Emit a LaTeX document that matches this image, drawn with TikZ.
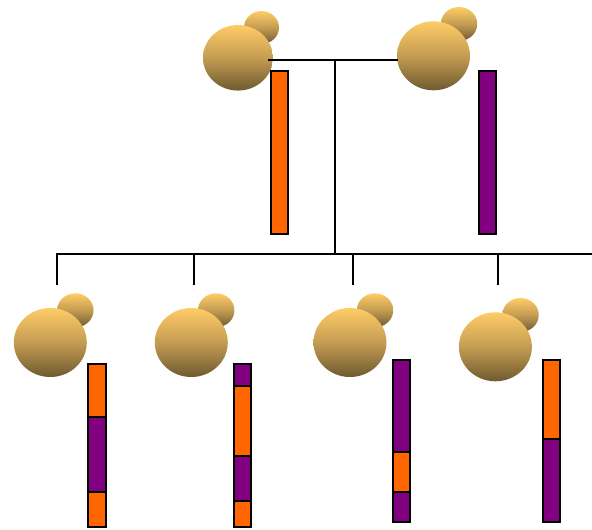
\documentclass[tikz,border=0pt]{standalone}
\usepackage{xcolor}
\usetikzlibrary{shapes.geometric}
\definecolor{skintop}{HTML}{FFCC66}
\definecolor{skinmid}{HTML}{C49C52}
\definecolor{skinlow}{HTML}{6E5A30}
\definecolor{orangeseg}{HTML}{FF6600}
\definecolor{purpleseg}{HTML}{800080}

\begin{document}
\begin{tikzpicture}[
    x=0.02cm, y=-0.02cm,
    skin/.style={top color=skintop, bottom color=skinlow, middle color=skinmid},
    body/.style={ellipse, inner sep=0pt, minimum width=1.46cm, minimum height=1.38cm, skin},
    head/.style={ellipse, inner sep=0pt, minimum width=0.73cm, minimum height=0.68cm, skin},
    ln/.style={draw=black, line width=0.04cm},
    orangebar/.style={ln, fill=orangeseg},
    purplebar/.style={ln, fill=purpleseg}
  ]
  \useasboundingbox (0,0) rectangle (592,529);

  % parents
  \node[head, minimum width=0.70cm, minimum height=0.66cm] (headA) at (261.5,27.5) {};
  \node[body, minimum width=1.40cm, minimum height=1.31cm] (bodyA) at (238,57.8) {};
  \node[head] (headB) at (459,24) {};
  \node[body] (bodyB) at (433.5,55.8) {};

  % children
  \node[head] (headC) at (75.3,310.3) {};
  \node[body] (bodyC) at (50.3,342.5) {};
  \node[head] (headD) at (216.2,310.3) {};
  \node[body] (bodyD) at (191.3,342.5) {};
  \node[head] (headE) at (375,310.3) {};
  \node[body] (bodyE) at (350,342.5) {};
  \node[head] (headF) at (520.5,315) {};
  \node[body] (bodyF) at (495.4,346.8) {};

  % family lines
  \coordinate (startA) at (268,59.7);
  \coordinate (endB) at (398,59.7);
  \coordinate (marriage) at (335,59.7);
  \coordinate (branch) at (335,253.7);
  \coordinate (railL) at (56,253.7);
  \coordinate (railR) at (592,253.7);
  \draw[ln] (startA) -- (endB);
  \draw[ln] (marriage) -- (branch);
  \draw[ln] (railL) -- (railR);
  \foreach \dropx/\dropname in {57/dropC, 194/dropD, 352.8/dropE, 498/dropF} {
    \coordinate (\dropname top) at (\dropx,253.7);
    \coordinate (\dropname) at (\dropx,285);
    \draw[ln] (\dropname top) -- (\dropname);
  }

  % parent chromosomes
  \draw[orangebar] (270.7,71) rectangle (287.8,233.8);
  \draw[purplebar] (478.8,71) rectangle (495.8,233.8);

  % child chromosomes
  \draw[orangebar] (88,364.2) rectangle (105.5,416.7);
  \draw[purplebar] (88,416.7) rectangle (105.5,491.7);
  \draw[orangebar] (88,491.7) rectangle (105.5,526.7);

  \draw[purplebar] (234,364.2) rectangle (251,386);
  \draw[orangebar] (234,386) rectangle (251,456);
  \draw[purplebar] (234,456) rectangle (251,500.5);
  \draw[orangebar] (234,500.5) rectangle (251,526.7);

  \draw[purplebar] (392.8,359.8) rectangle (409.8,452);
  \draw[orangebar] (392.8,452) rectangle (409.8,492);
  \draw[purplebar] (392.8,492) rectangle (409.8,522);

  \draw[orangebar] (542.5,359.8) rectangle (559.5,438.7);
  \draw[purplebar] (542.5,438.7) rectangle (559.5,522);
\end{tikzpicture}
\end{document}
